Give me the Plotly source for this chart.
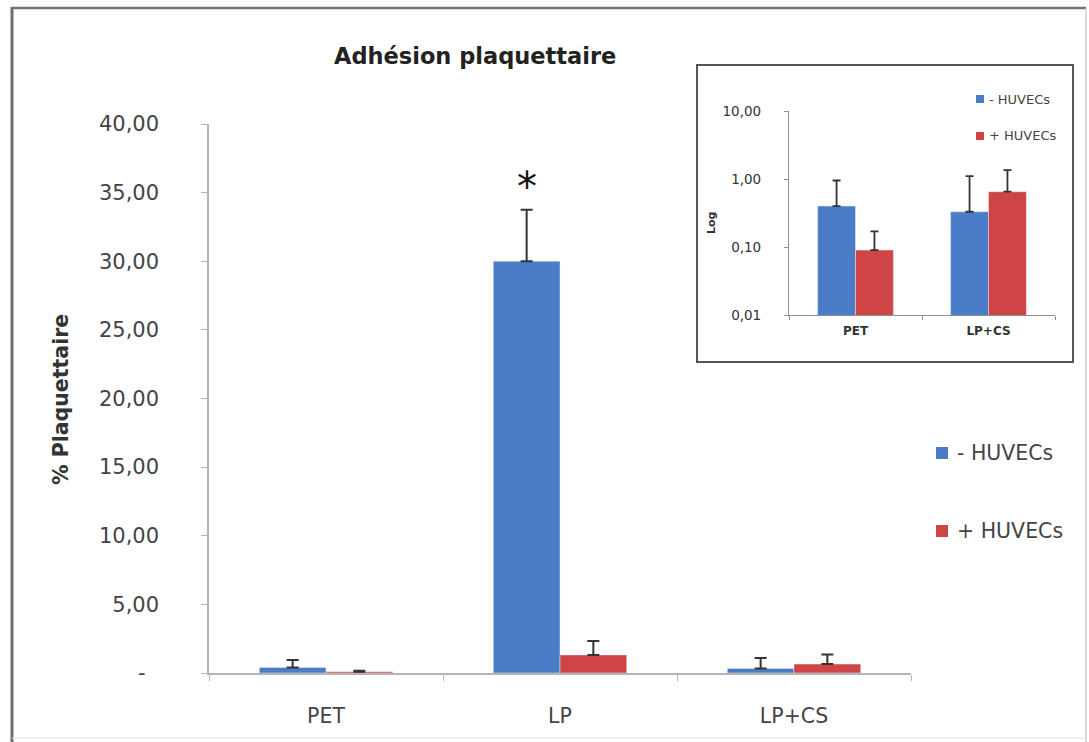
import plotly.graph_objects as go

# Platelet adhesion (% of platelets) per surface, without / with HUVECs
categories = ["PET", "LP", "LP+CS"]
minus_huvec = [0.40, 30.0, 0.33]
minus_err = [0.55, 3.75, 0.77]
plus_huvec = [0.09, 1.32, 0.65]
plus_err = [0.08, 1.02, 0.70]

# Inset (log scale) shows the low-adhesion surfaces only
inset_idx = [0, 2]
inset_categories = [categories[i] for i in inset_idx]

y_ticks = [0, 5, 10, 15, 20, 25, 30, 35, 40]
y_ticktext = ["-\u00a0\u00a0", "5,00", "10,00", "15,00", "20,00",
              "25,00", "30,00", "35,00", "40,00"]
log_ticks = [0.01, 0.1, 1, 10]
log_ticktext = ["0,01", "0,10", "1,00", "10,00"]

BLUE = "#4a7cc8"
RED = "#cf4545"
ERR = "#333333"
TXT = "#444444"
FONT = "DejaVu Sans"

W, H = 1089, 742


def px_x(px):
    return px / W


def px_y(py):
    return 1 - py / H


fig = go.Figure()

# main chart
fig.add_trace(go.Bar(
    x=categories, y=minus_huvec, name="- HUVECs", marker_color=BLUE,
    error_y=dict(type="data", symmetric=False, array=minus_err,
                 arrayminus=[0] * len(minus_err), color=ERR, thickness=2, width=6),
    xaxis="x", yaxis="y", showlegend=False,
))
fig.add_trace(go.Bar(
    x=categories, y=plus_huvec, name="+ HUVECs", marker_color=RED,
    error_y=dict(type="data", symmetric=False, array=plus_err,
                 arrayminus=[0] * len(plus_err), color=ERR, thickness=2, width=6),
    xaxis="x", yaxis="y", showlegend=False,
))

# inset chart
fig.add_trace(go.Bar(
    x=inset_categories, y=[minus_huvec[i] for i in inset_idx], marker_color=BLUE,
    error_y=dict(type="data", symmetric=False, array=[minus_err[i] for i in inset_idx],
                 arrayminus=[0, 0], color=ERR, thickness=1.8, width=4),
    xaxis="x2", yaxis="y2", showlegend=False,
))
fig.add_trace(go.Bar(
    x=inset_categories, y=[plus_huvec[i] for i in inset_idx], marker_color=RED,
    error_y=dict(type="data", symmetric=False, array=[plus_err[i] for i in inset_idx],
                 arrayminus=[0, 0], color=ERR, thickness=1.8, width=4),
    xaxis="x2", yaxis="y2", showlegend=False,
))


def pline(x0, y0, x1, y1, color, width):
    return dict(type="line", xref="paper", yref="paper",
                x0=px_x(x0), x1=px_x(x1), y0=px_y(y0), y1=px_y(y1),
                line=dict(color=color, width=width), layer="below")


shapes = [
    # outer frame
    pline(12, 7, 12, 742, "#6e6e6e", 3),
    pline(11, 8, 1086, 8, "#737373", 2.5),
    pline(1086, 8, 1086, 742, "#cfcfcf", 1.5),
    pline(12, 738, 1086, 738, "#e2e2e2", 1),
    # inset frame
    dict(type="rect", xref="paper", yref="paper",
         x0=px_x(697), x1=px_x(1073), y0=px_y(362), y1=px_y(65),
         line=dict(color="#555555", width=2), layer="below"),
]


def label(text, x, y, size, color=TXT, angle=0, family=FONT, xanchor="center"):
    return dict(text=text, x=px_x(x), y=px_y(y), xref="paper", yref="paper",
                xanchor=xanchor, yanchor="middle", showarrow=False, textangle=angle,
                font=dict(family=family, size=size, color=color))


annotations = [
    label("<b>Adhésion plaquettaire</b>", 475, 56, 22.5, color="#222222"),
    label("<b>% Plaquettaire</b>", 61, 400, 20.5, color="#333333", angle=-90),
    label("<b>Log</b>", 711, 223, 11, color="#333333", angle=-90),
    dict(text="*", x="LP", y=minus_huvec[1] + minus_err[1], xref="x", yref="y",
         xshift=-33, yshift=23, xanchor="center", yanchor="middle", showarrow=False,
         font=dict(family=FONT, size=40, color="#111111")),
]

# legends drawn as swatches + labels
legend_items = [
    (BLUE, "- HUVECs", 942, 453, 12, 20.5, 955),
    (RED, "+ HUVECs", 942, 531, 12, 20.5, 955),
    (BLUE, "- HUVECs", 980, 99, 8, 13, 987),
    (RED, "+ HUVECs", 980, 136, 8, 13, 987),
]
for color, text, cx, cy, sz, fsize, tx in legend_items:
    shapes.append(dict(type="rect", xref="paper", yref="paper",
                       x0=px_x(cx - sz / 2), x1=px_x(cx + sz / 2),
                       y0=px_y(cy + sz / 2), y1=px_y(cy - sz / 2),
                       fillcolor=color, line=dict(width=0)))
    annotations.append(label(text, tx, cy, fsize, xanchor="left"))

fig.update_layout(
    width=W, height=H,
    margin=dict(l=0, r=0, t=0, b=0, autoexpand=False),
    paper_bgcolor="white", plot_bgcolor="rgba(0,0,0,0)",
    barmode="group", bargap=0.43, bargroupgap=0,
    font=dict(family=FONT, color=TXT),
    shapes=shapes, annotations=annotations,
    xaxis=dict(domain=[px_x(209), px_x(911)], anchor="y", automargin=False,
               showline=True, linecolor="#b4b4b4", linewidth=1.5,
               ticks="outside", tickson="boundaries", ticklen=6, tickcolor="#b4b4b4",
               tickfont=dict(family=FONT, size=20.5, color=TXT), ticklabelstandoff=24,
               showgrid=False, zeroline=False),
    yaxis=dict(domain=[px_y(673), px_y(124)], anchor="x", range=[0, 40], automargin=False,
               tickvals=y_ticks, ticktext=y_ticktext,
               showline=True, linecolor="#b4b4b4", linewidth=1.5,
               ticks="outside", ticklen=6, tickcolor="#b4b4b4",
               tickfont=dict(family=FONT, size=21, color=TXT), ticklabelstandoff=38,
               showgrid=False, zeroline=False),
    xaxis2=dict(domain=[px_x(789), px_x(1055)], anchor="y2", automargin=False,
                tickvals=inset_categories,
                ticktext=["<b>" + c + "</b>" for c in inset_categories],
                showline=True, linecolor="#909090", linewidth=1.2,
                ticks="outside", tickson="boundaries", ticklen=4, tickcolor="#909090",
                tickfont=dict(family=FONT, size=12, color="#333333"), ticklabelstandoff=4,
                showgrid=False, zeroline=False),
    yaxis2=dict(domain=[px_y(315), px_y(111)], anchor="x2", type="log", range=[-2, 1],
                automargin=False, tickvals=log_ticks, ticktext=log_ticktext,
                showline=True, linecolor="#909090", linewidth=1.2,
                ticks="outside", ticklen=4, tickcolor="#909090",
                tickfont=dict(family=FONT, size=13.5, color="#333333"), ticklabelstandoff=20,
                showgrid=False, zeroline=False),
)

fig.write_html("out.html")
